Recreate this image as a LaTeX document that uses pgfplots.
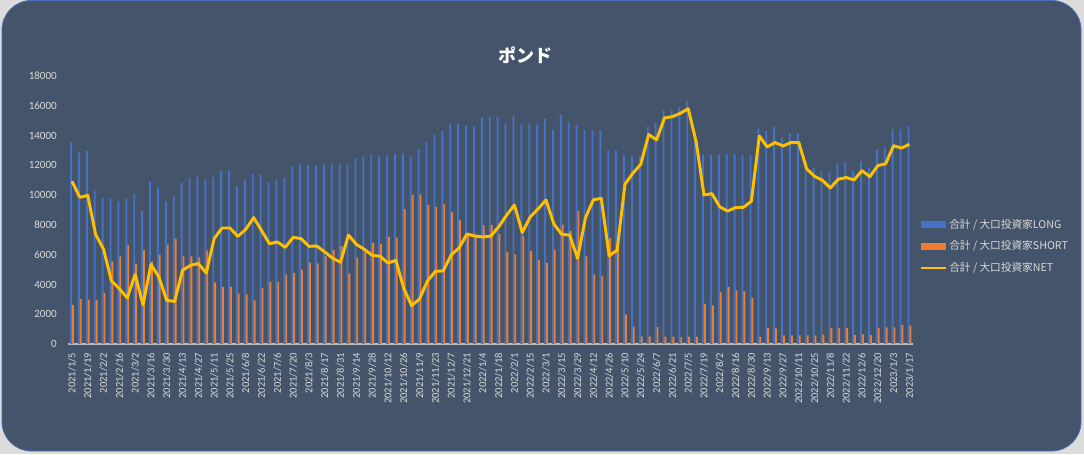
\documentclass[border=0pt]{standalone}
\usepackage{fontspec}
\setmainfont{Carlito}
\newfontfamily\jp{Noto Sans CJK JP}
\usepackage{pgfplots}
\usepackage{pgfplotstable}
\pgfplotsset{compat=1.18}
\definecolor{panel}{HTML}{44546A}
\definecolor{cblue}{HTML}{4472C4}
\definecolor{corange}{HTML}{ED7D31}
\definecolor{cyellow}{HTML}{FFC000}
\definecolor{ctext}{HTML}{D9D9D9}
\definecolor{caxis}{HTML}{BFBFBF}
\definecolor{outside}{HTML}{DCDCDC}
\definecolor{pborder}{HTML}{4A6FB5}

\pgfplotstableread{
w L S N
0 13550 2620 10930
1 12870 3020 9850
2 12960 2980 9980
3 10300 2955 7345
4 9800 3430 6370
5 9790 5550 4240
6 9600 5890 3710
7 9740 6650 3090
8 10080 5400 4680
9 8930 6310 2620
10 10880 5530 5350
11 10480 5980 4500
12 9600 6670 2930
13 9940 7080 2860
14 10840 5890 4950
15 11170 5890 5280
16 11220 5820 5400
17 11060 6290 4770
18 11220 4140 7080
19 11620 3830 7790
20 11620 3830 7790
21 10610 3380 7230
22 11040 3340 7700
23 11420 2930 8490
24 11370 3750 7620
25 10900 4165 6735
26 11020 4165 6855
27 11150 4660 6490
28 11930 4770 7160
29 12070 4990 7080
30 12020 5460 6560
31 12000 5420 6580
32 12070 5890 6180
33 12070 6310 5760
34 12070 6580 5490
35 12070 4750 7320
36 12490 5800 6690
37 12560 6200 6360
38 12740 6780 5960
39 12610 6720 5890
40 12630 7190 5440
41 12760 7140 5620
42 12810 9070 3740
43 12580 10010 2570
44 13080 10050 3030
45 13570 9340 4230
46 14080 9200 4880
47 14310 9400 4910
48 14820 8840 5980
49 14760 8310 6450
50 14640 7250 7390
51 14620 7370 7250
52 15180 7990 7190
53 15230 7990 7240
54 15250 7390 7860
55 14820 6180 8640
56 15360 6020 9340
57 14760 7280 7480
58 14780 6250 8530
59 14710 5640 9070
60 15110 5440 9670
61 14400 6340 8060
62 15380 8020 7360
63 14910 7590 7320
64 14690 8930 5760
65 14370 5890 8480
66 14350 4660 9690
67 14350 4570 9780
68 13050 7120 5930
69 12990 6700 6290
70 12720 1990 10730
71 12630 1160 11470
72 12580 510 12070
73 14580 510 14070
74 14850 1140 13710
75 15670 490 15180
76 15760 490 15270
77 15940 450 15490
78 16300 490 15810
79 14100 490 13610
80 12700 2690 10010
81 12700 2600 10100
82 12700 3490 9210
83 12760 3830 8930
84 12760 3600 9160
85 12720 3540 9180
86 12700 3110 9590
87 14460 490 13970
88 14310 1070 13240
89 14580 1050 13530
90 13880 580 13300
91 14110 580 13530
92 14110 580 13530
93 12340 580 11760
94 11840 580 11260
95 11620 630 10990
96 11550 1070 10480
97 12140 1070 11070
98 12250 1070 11180
99 11620 600 11020
100 12290 650 11640
101 11840 600 11240
102 13050 1070 11980
103 13230 1120 12110
104 14440 1120 13320
105 14440 1280 13160
106 14640 1230 13410
}\data

\begin{document}
\begin{tikzpicture}[x=0.75pt,y=0.75pt]
\fill[outside] (0,0) rectangle (1084,454);
\draw[fill=panel, draw=pborder, line width=0.6pt, rounded corners=22pt] (2,3) rectangle (1081,453.5);
\node[font=\jp\bfseries\fontsize{13.5}{15}\selectfont, text=white] at (525,399) {ポンド};
\begin{axis}[
  at={(51pt,82.5pt)}, anchor=south west,
  scale only axis, width=634pt, height=201pt,
  xmin=-0.5, xmax=106.5, ymin=0, ymax=18000,
  scaled y ticks=false, scaled x ticks=false,
  axis x line*=bottom, axis y line*=left,
  x axis line style={draw=caxis, line width=0.9pt, -},
  y axis line style={draw=none},
  tick style={draw=none},
  ytick={0,2000,...,18000},
  yticklabels={0,2000,4000,6000,8000,10000,12000,14000,16000,18000},
  yticklabel style={font=\fontsize{8.3}{9}\selectfont, text=ctext, inner sep=0pt, xshift=-8.2pt},
  xtick={0,2,...,106},
  xticklabels={2021/1/5,2021/1/19,2021/2/2,2021/2/16,2021/3/2,2021/3/16,2021/3/30,2021/4/13,2021/4/27,2021/5/11,2021/5/25,2021/6/8,2021/6/22,2021/7/6,2021/7/20,2021/8/3,2021/8/17,2021/8/31,2021/9/14,2021/9/28,2021/10/12,2021/10/26,2021/11/9,2021/11/23,2021/12/7,2021/12/21,2022/1/4,2022/1/18,2022/2/1,2022/2/15,2022/3/1,2022/3/15,2022/3/29,2022/4/12,2022/4/26,2022/5/10,2022/5/24,2022/6/7,2022/6/21,2022/7/5,2022/7/19,2022/8/2,2022/8/16,2022/8/30,2022/9/13,2022/9/27,2022/10/11,2022/10/25,2022/11/8,2022/11/22,2022/12/6,2022/12/20,2023/1/3,2023/1/17},
  xticklabel style={font=\fontsize{7.9}{9}\selectfont, text=ctext, yshift=-6.5pt, rotate=90, anchor=east, inner sep=0pt},
  legend style={at={(1.0079,0.3646)}, anchor=west, draw=none, fill=none, inner sep=0pt,
    font=\jp\fontsize{8}{9}\selectfont, text=ctext, row sep=5pt,
    nodes={inner sep=1.5pt}},
  legend cell align=left,
]
\addplot[ybar, bar width=1.4pt, bar shift=-0.7pt, fill=cblue, draw=none,
  legend image code/.code={\fill[cblue] (0pt,-2.6pt) rectangle (18.75pt,2.6pt);}]
  table[x=w, y=L] {\data};
\addlegendentry{合計 / 大口投資家LONG}
\addplot[ybar, bar width=1.4pt, bar shift=0.7pt, fill=corange, draw=none,
  legend image code/.code={\fill[corange] (0pt,-2.6pt) rectangle (18.75pt,2.6pt);}]
  table[x=w, y=S] {\data};
\addlegendentry{合計 / 大口投資家SHORT}
\addplot[sharp plot, color=cyellow, line width=2.2pt, line join=round, mark=none,
  legend image code/.code={\draw[cyellow, line width=1.5pt] (0pt,0pt) -- (18.75pt,0pt);}]
  table[x=w, y=N] {\data};
\addlegendentry{合計 / 大口投資家NET}
\end{axis}
\pgfresetboundingbox
\path[use as bounding box] (0,0) rectangle (1084,454);
\end{tikzpicture}
\end{document}
